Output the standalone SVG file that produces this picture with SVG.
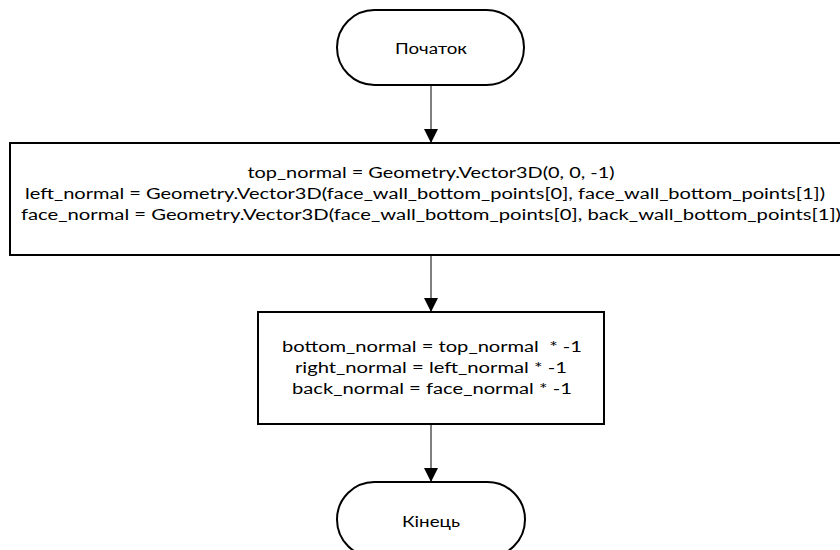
<svg xmlns="http://www.w3.org/2000/svg" width="840" height="550" viewBox="0 0 840 550">
  <style>
    .shape { fill: #ffffff; stroke: #000000; stroke-width: 2; }
    .edge { fill: none; stroke: #000000; stroke-width: 1; }
    .label { font-family: Lato, "Liberation Sans", sans-serif; font-size: 15.5px; fill: #000000; text-anchor: middle; }
  </style>
  <defs>
    <marker id="arrow" markerUnits="userSpaceOnUse" markerWidth="16" markerHeight="16" refX="14" refY="7" orient="auto">
      <path d="M0,0 L14,7 L0,14 Z" fill="#000000"/>
    </marker>
  </defs>
  <rect width="840" height="550" fill="#ffffff"/>

  <g id="connectors">
    <line class="edge" x1="431" y1="85" x2="431" y2="143" marker-end="url(#arrow)"/>
    <line class="edge" x1="431" y1="255" x2="431" y2="312" marker-end="url(#arrow)"/>
    <line class="edge" x1="431" y1="424" x2="431" y2="482" marker-end="url(#arrow)"/>
  </g>

  <g id="start">
    <rect class="shape" x="337" y="10" width="187" height="75" rx="37.5" ry="37.5"/>
    <text class="label" x="431" y="54" textLength="72" lengthAdjust="spacingAndGlyphs">Початок</text>
  </g>

  <g id="normals">
    <rect class="shape" x="10" y="143" width="842" height="112"/>
    <text class="label" x="431" y="178" textLength="367" lengthAdjust="spacingAndGlyphs">top_normal = Geometry.Vector3D(0, 0, -1)</text>
    <text class="label" x="425" y="199" textLength="800" lengthAdjust="spacingAndGlyphs">left_normal = Geometry.Vector3D(face_wall_bottom_points[0], face_wall_bottom_points[1])</text>
    <text class="label" x="431" y="220" textLength="820" lengthAdjust="spacingAndGlyphs">face_normal = Geometry.Vector3D(face_wall_bottom_points[0], back_wall_bottom_points[1])</text>
  </g>

  <g id="opposites">
    <rect class="shape" x="258" y="312" width="346" height="112"/>
    <text class="label" x="432" y="352" textLength="300" lengthAdjust="spacingAndGlyphs" xml:space="preserve">bottom_normal = top_normal  * -1</text>
    <text class="label" x="431" y="373" textLength="272" lengthAdjust="spacingAndGlyphs">right_normal = left_normal * -1</text>
    <text class="label" x="432" y="394" textLength="280" lengthAdjust="spacingAndGlyphs">back_normal = face_normal * -1</text>
  </g>

  <g id="end">
    <rect class="shape" x="337" y="482" width="188" height="75" rx="37.5" ry="37.5"/>
    <text class="label" x="431" y="527" textLength="58" lengthAdjust="spacingAndGlyphs">Кінець</text>
  </g>
</svg>
